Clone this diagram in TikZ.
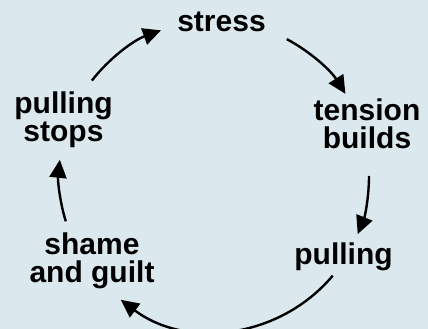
\documentclass[tikz,border=0pt]{standalone}
\usepackage{fontspec}
\setmainfont{Liberation Sans}
\usetikzlibrary{arrows.meta}
\definecolor{bgblue}{RGB}{219,233,239}
\tikzset{
  lbl/.style={font=\fontsize{30}{28}\selectfont\bfseries, align=center, inner sep=0pt, anchor=base},
  cyc/.style={line width=2.4pt, -{Triangle[length=18pt,width=17pt]}}
}
\begin{document}
\begin{tikzpicture}[x=1pt,y=1pt]  % ------ cycle ------
  \fill[bgblue] (0,0) rectangle (428,329);
  \useasboundingbox (0,0) rectangle (428,329);
  \node[lbl] (stress) at (221.5,297) {stress};
  \node[lbl] (tension) at (367,180) {tension\\builds};
  \node[lbl] (pulling) at (343.5,64) {pulling};
  \node[lbl] (shame) at (92,46) {shame\\and guilt};
  \node[lbl] (stops) at (63.5,187) {pulling\\stops};
  \begin{scope}[shift={(214,153)}]
    \coordinate (c1) at (142:155);
    \coordinate (c2) at (62:155);
    \coordinate (c3) at (0:155);
    \coordinate (c4) at (-40:155);
    \coordinate (c5) at (-163:155);
  \end{scope}
  \draw[cyc] (c1) arc[start angle=142, end angle=110, radius=155]; % stops -> stress
  \draw[cyc] (c2) arc[start angle=62, end angle=32, radius=155];   % stress -> tension
  \draw[cyc] (c3) arc[start angle=0, end angle=-22, radius=155];   % tension -> pulling
  \draw[cyc] (c4) arc[start angle=-40, end angle=-127, radius=155]; % pulling -> shame
  \draw[cyc] (c5) arc[start angle=-163, end angle=-186, radius=155]; % shame -> stops
\end{tikzpicture}
\end{document}
